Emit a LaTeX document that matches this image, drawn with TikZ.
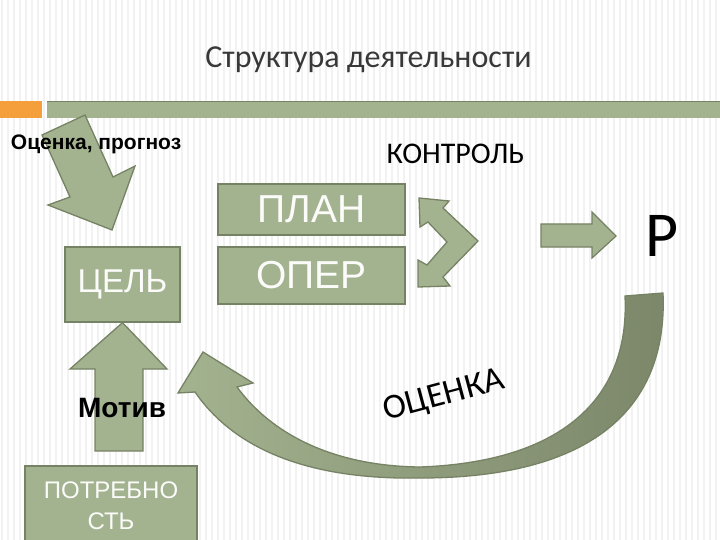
\documentclass[tikz,border=0pt]{standalone}
\usepackage{fontspec}
\setmainfont{Carlito}
\newfontfamily\arialfont{Liberation Sans}
\usepackage{tikz}
\usetikzlibrary{positioning,calc}
\usepackage{xcolor}
\definecolor{col1}{RGB}{163,178,143}
\definecolor{col2}{RGB}{118,130,100}
\definecolor{col3}{RGB}{124,135,106}
\definecolor{col4}{RGB}{245,158,60}
\colorlet{c1}{col1}
\colorlet{c2}{col2}
\colorlet{c3}{col3}
\colorlet{c4}{col4}
\colorlet{c5}{white!96!col1}

\begin{document}
\begin{tikzpicture}[x=1pt, y=-1pt, line width=1.3pt]
\tikzstyle{every box}=[draw=c2,fill=c1,text=c5,inner sep=0pt]
\tikzstyle{blockarrow}=[draw=c2,fill=c1,line join=miter]
\useasboundingbox (0,0) rectangle (720,540);
% striped background
\foreach \x in {2,8,...,720}
  \draw[black!5, line width=1.4pt] (\x,0) -- (\x,540);
% top bars
\fill[c4] (0,101) rectangle (42,118);
\fill[c1] (47,101) rectangle (720,118);
\draw[c2, line width=1pt] (47,101.5) -- (720,101.5);

\node[anchor=base, text=black!78] (title) at (368.5,68)
  {\fontsize{32}{36}\selectfont Структура деятельности};

% boxes
\node[every box, minimum width=187, minimum height=51,
  font=\arialfont\fontsize{39}{44}\selectfont] (plan) at (311.5,209.5) {ПЛАН};
\node[every box, minimum width=187, minimum height=57,
  font=\arialfont\fontsize{39}{44}\selectfont] (oper) at (311.5,275.5) {ОПЕР};
\node[every box, minimum width=115, minimum height=75,
  font=\arialfont\fontsize{33}{38}\selectfont] (cel) at (122.5,284.5) {ЦЕЛЬ};
\node[every box, minimum width=172, minimum height=80, align=center,
  font=\arialfont\fontsize{24}{31}\selectfont] (potr) at (111,506) {ПОТРЕБНО\\СТЬ};

% arrow from the forecast
\draw[blockarrow] (85,115) -- (113,177) -- (135,166) -- (112,230) -- (48,205)
  -- (70,197) -- (42,135) -- cycle;
\node[anchor=base west] (prognoz) at (7,150)
  {\arialfont\bfseries\fontsize{21}{25}\selectfont Оценка, прогноз};

% need -> goal
\draw[blockarrow] (cel.south) -- (167,369) -- (143,369) -- (143,451) -- (95,451)
  -- (95,369) -- (70,369) -- cycle;
\node[anchor=base] (motiv) at (122,417)
  {\arialfont\bfseries\fontsize{28}{32}\selectfont Мотив};

% control
\node[anchor=base] (kontrol) at (455.5,164) {\fontsize{30}{34}\selectfont КОНТРОЛЬ};
\draw[blockarrow] (419,198) -- (449,201) -- (443,208) -- (478,241) -- (443,277)
  -- (450,286) -- (418,287) -- (418,260) -- (427,265) -- (447,242) -- (428,222)
  -- (420,227) -- cycle;

% result
\node[anchor=base] (res) at (662,256) {\fontsize{64}{70}\selectfont Р};
\draw[blockarrow] (541,224) -- (592,224) -- (592,212) -- (616,236) -- (592,258)
  -- (592,247) -- (541,247) -- cycle;

% evaluation loop
\draw[draw=c2, left color=c1, right color=c3, line join=miter]
  (663,293) .. controls (668,410) and (590,478) .. (420,478)
  .. controls (310,480) and (235,450) .. (195,392)
  -- (178,393) -- (203,352) -- (253,383) -- (237,387)
  .. controls (270,432) and (330,466) .. (420,467)
  .. controls (560,462) and (630,400) .. (625,296) -- cycle;
\node[rotate=15, inner sep=1pt] (ocenka) at (444,396) {\fontsize{35}{38}\selectfont ОЦЕНКА};
\end{tikzpicture}
\end{document}
